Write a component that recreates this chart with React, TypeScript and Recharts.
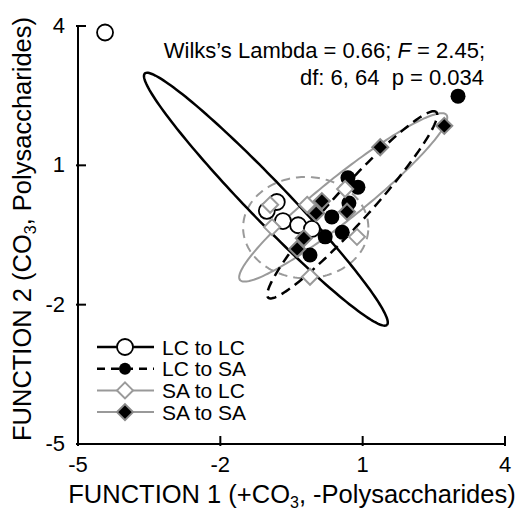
import { ScatterChart, Scatter, XAxis, YAxis, Legend, Customized } from "recharts";

const FONT = "'Liberation Sans', Arial, sans-serif";

const axisTicks = [-5, -2, 1, 4];

// group centroids / classification scores
const lcToLc = [
  { x: -4.43, y: 3.86 },
  { x: -0.81, y: 0.21 },
  { x: -1.02, y: 0.02 },
  { x: -0.68, y: -0.2 },
  { x: -0.36, y: -0.29 },
  { x: -0.07, y: -0.37 },
];
const lcToSa = [
  { x: 3.01, y: 2.49 },
  { x: 0.69, y: 0.73 },
  { x: 0.9, y: 0.53 },
  { x: 0.71, y: 0.19 },
  { x: 0.35, y: -0.11 },
  { x: 0.57, y: -0.44 },
  { x: 0.21, y: -0.54 },
  { x: -0.11, y: -0.93 },
];
const saToLc = [
  { x: -0.95, y: 0.15 },
  { x: -0.91, y: -0.33 },
  { x: -0.17, y: 0.15 },
  { x: 0.63, y: 0.49 },
  { x: 0.88, y: -0.54 },
  { x: -0.11, y: -1.4 },
];
const saToSa = [
  { x: 2.72, y: 1.85 },
  { x: 1.37, y: 1.39 },
  { x: 0.67, y: 0.0 },
  { x: 0.14, y: 0.23 },
  { x: 0.02, y: -0.03 },
  { x: -0.24, y: -0.57 },
  { x: -0.38, y: -0.8 },
];

// confidence ellipses: [centerX, centerY, semiMajor, semiMinor, angleDeg]
const lcToLcEllipse = [-1.04, 0.27, 3.72, 0.42, -46.7];
const lcToSaEllipse = [0.78, 0.15, 2.67, 0.38, 48.5];
const saToLcEllipse = [-0.2, -0.34, 1.32, 1.09, 0];
const saToSaEllipse = [0.59, 0.31, 2.81, 0.45, 39.3];

function outline([cx, cy, a, b, deg]: number[]) {
  const th = (deg * Math.PI) / 180;
  const pts = [];
  for (let i = 0; i <= 180; i++) {
    const t = (i / 180) * 2 * Math.PI;
    pts.push({
      x: cx + a * Math.cos(t) * Math.cos(th) - b * Math.sin(t) * Math.sin(th),
      y: cy + a * Math.cos(t) * Math.sin(th) + b * Math.sin(t) * Math.cos(th),
    });
  }
  return pts;
}

const legendItems = [
  { label: "LC to LC", stroke: "#000", width: 2.5, dash: undefined, marker: "openCircle" },
  { label: "LC to SA", stroke: "#000", width: 2.5, dash: "8 6", marker: "filledCircle" },
  { label: "SA to LC", stroke: "#999", width: 2, dash: undefined, marker: "openDiamond" },
  { label: "SA to SA", stroke: "#999", width: 2, dash: undefined, marker: "filledDiamond" },
];

const diamond = (cx: number, cy: number, r: number) =>
  `${cx},${cy - r} ${cx + r},${cy} ${cx},${cy + r} ${cx - r},${cy}`;

const OpenCircle = ({ cx, cy }: any) => (
  <circle cx={cx} cy={cy} r={8} fill="#fff" stroke="#000" strokeWidth={1.8} />
);
const FilledCircle = ({ cx, cy }: any) => <circle cx={cx} cy={cy} r={7.5} fill="#000" />;
const OpenDiamond = ({ cx, cy }: any) => (
  <polygon points={diamond(cx, cy, 8)} fill="#fff" stroke="#9a9a9a" strokeWidth={2} />
);
const FilledDiamond = ({ cx, cy }: any) => (
  <polygon points={diamond(cx, cy, 8)} fill="#000" stroke="#8a8a8a" strokeWidth={2} />
);
const NoDot = () => <g />;

const markerFor = (m: string, cx: number, cy: number) => {
  if (m === "openCircle") return <OpenCircle cx={cx} cy={cy} />;
  if (m === "filledCircle") return <circle cx={cx} cy={cy} r={6} fill="#000" />;
  if (m === "openDiamond") return <OpenDiamond cx={cx} cy={cy} />;
  return <FilledDiamond cx={cx} cy={cy} />;
};

const BottomTick = ({ x, y, payload }: any) => (
  <g>
    <line x1={x} x2={x} y1={y} y2={y - 10} stroke="#000" strokeWidth={2} />
    <text x={x} y={y + 26} textAnchor="middle" fontSize={22} fontFamily={FONT} fill="#000">
      {payload.value}
    </text>
  </g>
);
const LeftTick = ({ x, y, payload }: any) => (
  <g>
    <line x1={x} x2={x + 10} y1={y} y2={y} stroke="#000" strokeWidth={2} />
    <text x={x - 11} y={y + 7} textAnchor="end" fontSize={22} fontFamily={FONT} fill="#000">
      {payload.value}
    </text>
  </g>
);
const TopTick = ({ x, y }: any) => (
  <line x1={x} x2={x} y1={y} y2={y + 10} stroke="#000" strokeWidth={2} />
);
const RightTick = ({ x, y }: any) => (
  <line x1={x} x2={x - 10} y1={y} y2={y} stroke="#000" strokeWidth={2} />
);

const LegendBox = () => (
  <svg width={220} height={90} style={{ display: "block", overflow: "visible" }}>
    {legendItems.map((it, i) => {
      const cy = 12 + i * 21.7;
      return (
        <g key={it.label}>
          <line x1={2} x2={59} y1={cy} y2={cy} stroke={it.stroke} strokeWidth={it.width} strokeDasharray={it.dash} />
          {markerFor(it.marker, 30, cy)}
          <text x={67} y={cy + 7.5} fontSize={21} fontFamily={FONT} fill="#000">
            {it.label}
          </text>
        </g>
      );
    })}
  </svg>
);

const Texts = () => (
  <g fontFamily={FONT} fill="#000">
    <text x={485} y={58} textAnchor="end" fontSize={22}>
      Wilks’s Lambda = 0.66; <tspan fontStyle="italic">F</tspan> = 2.45;
    </text>
    <text x={484} y={85} textAnchor="end" fontSize={22} style={{ whiteSpace: "pre" }}>
      df: 6, 64  p = 0.034
    </text>
    <text x={292} y={503} textAnchor="middle" fontSize={25.5}>
      FUNCTION 1 (+CO<tspan dy={5} fontSize={16}>3</tspan>
      <tspan dy={-5}>, -Polysaccharides)</tspan>
    </text>
    <text transform="translate(31,229) rotate(-90)" textAnchor="middle" fontSize={25.5}>
      FUNCTION 2 (CO<tspan dy={5} fontSize={16}>3</tspan>
      <tspan dy={-5}>, Polysaccharides)</tspan>
    </text>
  </g>
);

export default function App() {
  return (
    <div style={{ position: "absolute", left: 0, top: 0, background: "#fff" }}>
      <ScatterChart width={524} height={516} margin={{ top: 26, right: 19, bottom: 0, left: 0 }}>
        <XAxis
          type="number"
          dataKey="x"
          domain={[-5, 4]}
          ticks={axisTicks}
          interval={0}
          height={72}
          tickSize={0}
          tick={(p: any) => <BottomTick {...p} />}
          axisLine={{ stroke: "#000", strokeWidth: 2 }}
        />
        <XAxis
          xAxisId="top"
          orientation="top"
          type="number"
          domain={[-5, 4]}
          ticks={axisTicks}
          interval={0}
          height={0}
          tickSize={0}
          tick={(p: any) => <TopTick {...p} />}
          axisLine={{ stroke: "#000", strokeWidth: 2 }}
        />
        <YAxis
          type="number"
          dataKey="y"
          domain={[-5, 4]}
          ticks={axisTicks}
          interval={0}
          width={78}
          tickSize={0}
          tick={(p: any) => <LeftTick {...p} />}
          axisLine={{ stroke: "#000", strokeWidth: 2 }}
        />
        <YAxis
          yAxisId="right"
          orientation="right"
          type="number"
          domain={[-5, 4]}
          ticks={axisTicks}
          interval={0}
          width={0}
          tickSize={0}
          tick={(p: any) => <RightTick {...p} />}
          axisLine={{ stroke: "#000", strokeWidth: 2 }}
        />
        <Scatter data={outline(saToLcEllipse)} line={{ stroke: "#9a9a9a", strokeWidth: 2, strokeDasharray: "9 6" }} lineType="joint" shape={NoDot} isAnimationActive={false} legendType="none" />
        <Scatter data={outline(saToSaEllipse)} line={{ stroke: "#9a9a9a", strokeWidth: 2 }} lineType="joint" shape={NoDot} isAnimationActive={false} legendType="none" />
        <Scatter data={outline(lcToSaEllipse)} line={{ stroke: "#000", strokeWidth: 2.5, strokeDasharray: "10 6" }} lineType="joint" shape={NoDot} isAnimationActive={false} legendType="none" />
        <Scatter data={outline(lcToLcEllipse)} line={{ stroke: "#000", strokeWidth: 2.5 }} lineType="joint" shape={NoDot} isAnimationActive={false} legendType="none" />
        <Scatter data={lcToLc} shape={OpenCircle} isAnimationActive={false} />
        <Scatter data={lcToSa} shape={FilledCircle} isAnimationActive={false} />
        <Scatter data={saToLc} shape={OpenDiamond} isAnimationActive={false} />
        <Scatter data={saToSa} shape={FilledDiamond} isAnimationActive={false} />
        <Legend
          layout="horizontal"
          verticalAlign="middle"
          align="center"
          content={() => <LegendBox />}
          wrapperStyle={{ left: 95, top: 335, width: 220, height: 90 }}
        />
        <Customized component={Texts} />
      </ScatterChart>
    </div>
  );
}
